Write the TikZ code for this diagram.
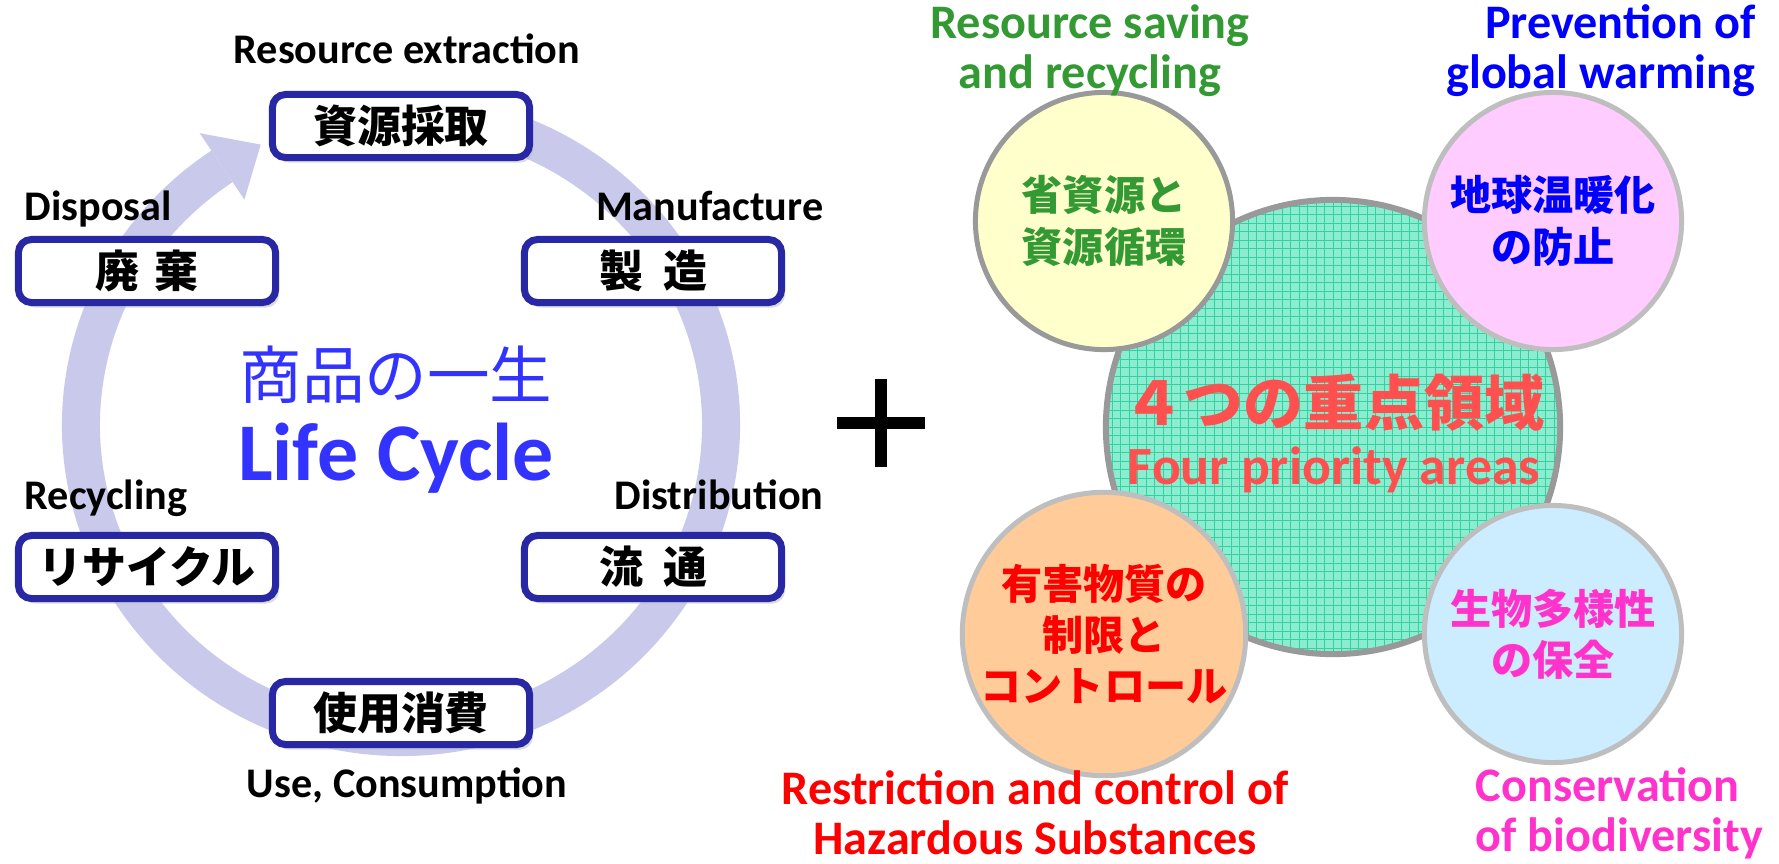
\documentclass[tikz,border=0pt]{standalone}
\usepackage{fontspec}
\setmainfont{Carlito}
\newfontfamily\jp{Noto Sans CJK JP}
\usetikzlibrary{shadows}
\definecolor{ringc}{RGB}{201,201,236}
\definecolor{boxblue}{RGB}{40,40,165}
\definecolor{lgreen}{RGB}{51,153,51}
\definecolor{magen}{RGB}{255,51,204}
\definecolor{coral}{RGB}{255,80,80}
\definecolor{lcblue}{RGB}{51,51,255}
\definecolor{cyellow}{RGB}{255,255,204}
\definecolor{cpink}{RGB}{255,204,255}
\definecolor{corange}{RGB}{255,204,153}
\definecolor{cblue}{RGB}{204,236,255}
\definecolor{cteal}{RGB}{140,236,208}
\definecolor{gridc}{RGB}{50,210,160}
\definecolor{rimgray}{RGB}{153,153,153}
\definecolor{rimlight}{RGB}{190,190,190}
\begin{document}
\begin{tikzpicture}[x=0.01cm,y=0.01cm,
  stagebox/.style={draw=boxblue, line width=0.07cm, rounded corners=0.13cm, fill=white,
    minimum width=2.57cm, minimum height=0.63cm, inner sep=0pt,
    font=\jp\bfseries\fontsize{12.5}{14}\selectfont,
    drop shadow={shadow xshift=0.035cm, shadow yshift=-0.05cm, fill=black!28}},
  lab/.style={font=\bfseries\fontsize{12}{14.2}\selectfont, inner sep=0pt},
  arealab/.style={font=\bfseries\fontsize{13.7}{14.2}\selectfont, inner sep=0pt},
  area/.style={circle, draw=rimlight, line width=0.05cm, minimum size=2.57cm, inner sep=0pt,
    align=center, font=\jp\bfseries\fontsize{11.7}{14.6}\selectfont},
]
\useasboundingbox (0,0) rectangle (1779,-863);
\fill[white] (0,0) rectangle (1779,-863);

% ---- life cycle ring ----
\begin{scope}[shift={(401,-425)}]
  \draw[ringc, line width=0.38cm] (78:320 and 312) arc[start angle=78, end angle=-236, x radius=320, y radius=312];
  \fill[ringc] (124:280 and 272) -- (124:360 and 352) -- (116:320 and 312) -- cycle;
\end{scope}

% ---- stage boxes ----
\node[stagebox] (b1) at (401,-126) {資源採取};
\node[stagebox] (b2) at (653,-271) {製\hspace{0.2cm}造};
\node[stagebox] (b3) at (147,-271) {廃\hspace{0.16cm}棄};
\node[stagebox] (b4) at (653,-567) {流\hspace{0.2cm}通};
\node[stagebox] (b5) at (147,-567) {リサイクル};
\node[stagebox] (b6) at (401,-713) {使用消費};

% ---- stage labels ----
\node[lab, anchor=base] (t1) at (407,-63) {Resource extraction};
\node[lab, anchor=base west] (t2) at (24,-220) {Disposal};
\node[lab, anchor=base east] (t3) at (824,-220) {Manufacture};
\node[lab, anchor=base west] (t4) at (24,-509) {Recycling};
\node[lab, anchor=base east] (t5) at (824,-509) {Distribution};
\node[lab, anchor=base] (t6) at (407,-797) {Use, Consumption};

% ---- centre title ----
\node[font=\jp\fontsize{17.8}{20}\selectfont, text=lcblue, inner sep=0pt] (jt) at (396,-375) {商品の一生};
\node[font=\bfseries\fontsize{23.3}{26}\selectfont, text=lcblue, inner sep=0pt, anchor=base] (lc) at (396,-480) {Life Cycle};

% ---- plus sign ----
\draw[black, line width=0.12cm] (837,-423) -- (925,-423);
\draw[black, line width=0.12cm] (881,-379) -- (881,-467);

% ---- four priority areas ----
\node[circle, draw=rimgray, line width=0.06cm, minimum size=4.54cm, inner sep=0pt,
  path picture={
    \fill[cteal] (path picture bounding box.south west) rectangle (path picture bounding box.north east);
    \draw[gridc, line width=0.2pt, step=0.085cm] (path picture bounding box.south west) grid (path picture bounding box.north east);
  }] (core) at (1333,-427) {};
\node[font=\jp\bfseries\fontsize{17.1}{20}\selectfont, text=coral, inner sep=0pt] (k1) at (1334,-403) {４つの重点領域};
\node[font=\bfseries\fontsize{15.3}{18}\selectfont, text=coral, inner sep=0pt, anchor=base] (k2) at (1334,-484) {Four priority areas};

\node[area, fill=cyellow, draw=rimgray, text=lgreen] (c1) at (1104,-221) {省資源と\\資源循環};
\node[area, fill=cpink, text=blue] (c2) at (1553,-221) {地球温暖化\\の防止};
\node[area, fill=corange, text=red] (c3) at (1104,-634) {有害物質の\\制限と\\コントロール};
\node[area, fill=cblue, text=magen] (c4) at (1553,-634) {生物多様性\\の保全};

% ---- area labels ----
\node[arealab, text=lgreen, align=center] (l1) at (1090,-51) {Resource saving\\and recycling};
\node[arealab, text=blue, align=right, anchor=east] (l2) at (1756,-51) {Prevention of\\global warming};
\node[arealab, text=red, align=center] (l3) at (1035,-813) {Restriction and control of\\Hazardous Substances};
\node[arealab, text=magen, align=left, anchor=west] (l4) at (1475,-813) {Conservation\\of biodiversity};
\end{tikzpicture}
\end{document}
